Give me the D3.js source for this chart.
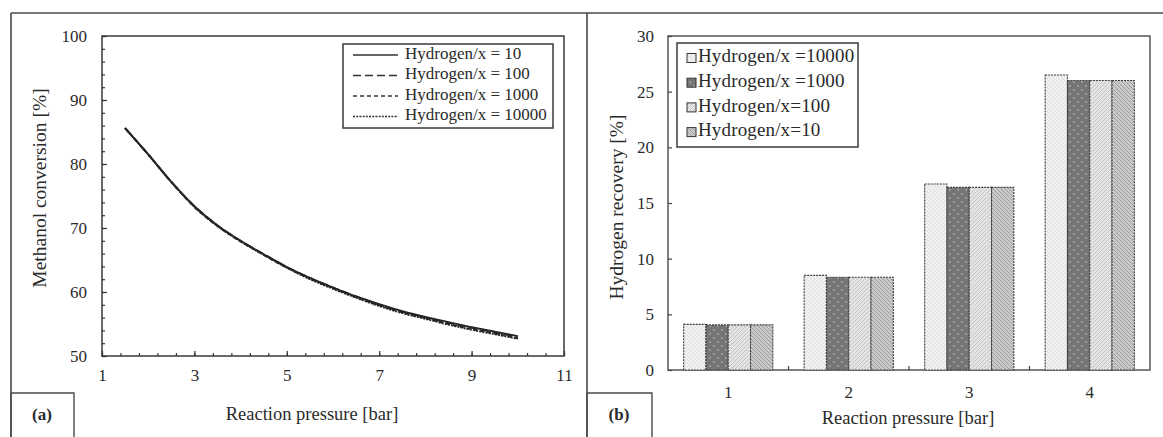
<!DOCTYPE html>
<html>
<head>
<meta charset="utf-8">
<script src="https://cdn.jsdelivr.net/npm/d3@7"></script>
<style>
  html, body { margin: 0; padding: 0; background: #fff; }
  svg { display: block; }
  svg text { font-family: "Liberation Serif", "Times New Roman", Times, "DejaVu Serif", serif; fill: #2a2a2a; }
</style>
</head>
<body>
<svg id="chart" width="1163" height="437"></svg>
<script>
// ---- (a) Methanol conversion vs. reaction pressure ----
const pressure   = [1.5, 2, 2.5, 3, 3.5, 4, 4.5, 5, 5.5, 6, 6.5, 7, 7.5, 8, 8.5, 9, 9.5, 10];
const conv10     = [85.6, 81.5, 77.2, 73.4, 70.4, 68.0, 65.9, 63.9, 62.2, 60.7, 59.3, 58.1, 57.0, 56.1, 55.3, 54.5, 53.8, 53.1];
const conv100    = [85.6, 81.5, 77.2, 73.4, 70.4, 68.0, 65.9, 63.9, 62.2, 60.7, 59.3, 58.0, 56.9, 56.0, 55.2, 54.4, 53.7, 53.0];
const conv1000   = [85.6, 81.5, 77.2, 73.3, 70.3, 67.9, 65.8, 63.8, 62.1, 60.6, 59.2, 57.9, 56.8, 55.9, 55.0, 54.2, 53.5, 52.8];
const conv10000  = [85.6, 81.5, 77.2, 73.3, 70.3, 67.9, 65.8, 63.8, 62.0, 60.5, 59.1, 57.8, 56.7, 55.8, 54.9, 54.1, 53.4, 52.7];
const lineLabels = ["Hydrogen/x = 10", "Hydrogen/x = 100", "Hydrogen/x = 1000", "Hydrogen/x = 10000"];
const xTicksA    = [1, 3, 5, 7, 9, 11];
const yTicksA    = [50, 60, 70, 80, 90, 100];

// ---- (b) Hydrogen recovery vs. reaction pressure ----
const categories = ["1", "2", "3", "4"];
const rec10000   = [4.1, 8.5, 16.7, 26.5];
const rec1000    = [4.05, 8.33, 16.4, 26.0];
const rec100     = [4.05, 8.33, 16.4, 26.0];
const rec10      = [4.05, 8.33, 16.4, 26.0];
const barLabels  = ["Hydrogen/x =10000", "Hydrogen/x =1000", "Hydrogen/x=100", "Hydrogen/x=10"];
const yTicksB    = [0, 5, 10, 15, 20, 25, 30];

const svg = d3.select("#chart");
const frameColor = "#4a4a4a";
const serif = "'Liberation Serif', 'Times New Roman', Times, 'DejaVu Serif', serif";

// ---------- fill patterns for the bars ----------
const defs = svg.append("defs");
// light fine dots
const p1 = defs.append("pattern").attr("id", "pat0").attr("patternUnits", "userSpaceOnUse")
  .attr("width", 4).attr("height", 4);
p1.append("rect").attr("width", 4).attr("height", 4).attr("fill", "#f1f1f1");
p1.append("circle").attr("cx", 1).attr("cy", 1).attr("r", 0.6).attr("fill", "#c4c4c4");
p1.append("circle").attr("cx", 3).attr("cy", 3).attr("r", 0.6).attr("fill", "#c4c4c4");
// dark with light dots
const p2 = defs.append("pattern").attr("id", "pat1").attr("patternUnits", "userSpaceOnUse")
  .attr("width", 8).attr("height", 8);
p2.append("rect").attr("width", 8).attr("height", 8).attr("fill", "#757575");
p2.append("circle").attr("cx", 2).attr("cy", 2).attr("r", 0.9).attr("fill", "#a8a8a8");
p2.append("circle").attr("cx", 6).attr("cy", 6).attr("r", 0.9).attr("fill", "#a8a8a8");
// light forward hatch
const p3 = defs.append("pattern").attr("id", "pat2").attr("patternUnits", "userSpaceOnUse")
  .attr("width", 4).attr("height", 4);
p3.append("rect").attr("width", 4).attr("height", 4).attr("fill", "#e4e4e4");
p3.append("path").attr("d", "M-1,1 l2,-2 M0,4 l4,-4 M3,5 l2,-2")
  .attr("stroke", "#c2c2c2").attr("stroke-width", 0.9);
// medium backward hatch
const p4 = defs.append("pattern").attr("id", "pat3").attr("patternUnits", "userSpaceOnUse")
  .attr("width", 4).attr("height", 4);
p4.append("rect").attr("width", 4).attr("height", 4).attr("fill", "#c9c9c9");
p4.append("path").attr("d", "M-1,3 l2,2 M0,0 l4,4 M3,-1 l2,2")
  .attr("stroke", "#9a9a9a").attr("stroke-width", 0.9);

// ---------- outer panel frame ----------
svg.append("line").attr("x1", 11).attr("x2", 1163).attr("y1", 13).attr("y2", 13)
  .attr("stroke", frameColor).attr("stroke-width", 1.6);
svg.append("line").attr("x1", 11).attr("x2", 11).attr("y1", 13).attr("y2", 437)
  .attr("stroke", frameColor).attr("stroke-width", 1.6);
svg.append("line").attr("x1", 587).attr("x2", 587).attr("y1", 13).attr("y2", 437)
  .attr("stroke", frameColor).attr("stroke-width", 1.6);

// panel tags
function tag(x0, x1, top, label, cx) {
  svg.append("path").attr("d", `M${x0},437 V${top} H${x1} V437`)
    .attr("fill", "none").attr("stroke", frameColor).attr("stroke-width", 1.4);
  svg.append("text").attr("x", cx).attr("y", 416).attr("text-anchor", "middle")
    .attr("dominant-baseline", "middle").attr("font-size", 17).attr("font-weight", "bold")
    .attr("font-family", serif).text(label);
}
tag(11, 74, 393, "(a)", 42);
tag(587, 652, 393, "(b)", 619);

// =============== Panel (a) ===============
const A = { left: 102, right: 564, top: 36, bottom: 356 };
const xA = d3.scaleLinear().domain([1, 11]).range([A.left, A.right]);
const yA = d3.scaleLinear().domain([50, 100]).range([A.bottom, A.top]);

const gA = svg.append("g");
gA.append("rect").attr("x", A.left).attr("y", A.top)
  .attr("width", A.right - A.left).attr("height", A.bottom - A.top)
  .attr("fill", "none").attr("stroke", "#3a3a3a").attr("stroke-width", 1.5);

// minor ticks
const xMinorA = d3.range(0, 26).map(i => 1 + i * 0.4);
const yMinorA = d3.range(0, 26).map(i => 50 + i * 2);
gA.append("g").attr("transform", `translate(0,${A.bottom})`)
  .call(d3.axisBottom(xA).tickValues(xMinorA).tickSize(-3).tickFormat(""))
  .call(g => g.select(".domain").remove())
  .call(g => g.selectAll("line").attr("stroke", "#333").attr("stroke-width", 1.2));
gA.append("g").attr("transform", `translate(${A.left},0)`)
  .call(d3.axisLeft(yA).tickValues(yMinorA).tickSize(-3).tickFormat(""))
  .call(g => g.select(".domain").remove())
  .call(g => g.selectAll("line").attr("stroke", "#333").attr("stroke-width", 1.2));

// major ticks and labels
gA.append("g").attr("transform", `translate(0,${A.bottom})`)
  .call(d3.axisBottom(xA).tickValues(xTicksA).tickSize(-5).tickPadding(13).tickFormat(d3.format("d")))
  .attr("font-family", serif)
  .call(g => g.select(".domain").remove())
  .call(g => g.selectAll("line").attr("stroke", "#333").attr("stroke-width", 1.2))
  .call(g => g.selectAll("text").attr("font-size", 17).attr("fill", "#333"));
gA.append("g").attr("transform", `translate(${A.left},0)`)
  .call(d3.axisLeft(yA).tickValues(yTicksA).tickSize(-5).tickPadding(15).tickFormat(d3.format("d")))
  .attr("font-family", serif)
  .call(g => g.select(".domain").remove())
  .call(g => g.selectAll("line").attr("stroke", "#333").attr("stroke-width", 1.2))
  .call(g => g.selectAll("text").attr("font-size", 17).attr("fill", "#333"));

// axis titles
svg.append("text").attr("transform", `translate(42,188) rotate(-90)`)
  .attr("text-anchor", "middle").attr("dominant-baseline", "middle").attr("font-size", 19.5)
  .attr("font-family", serif).text("Methanol conversion [%]");
svg.append("text").attr("x", 312).attr("y", 416).attr("text-anchor", "middle")
  .attr("dominant-baseline", "middle").attr("font-size", 18.5)
  .attr("font-family", serif).text("Reaction pressure [bar]");

// curves
const lineSeries = [conv10, conv100, conv1000, conv10000];
const dashes = [null, "8,4", "4,3", "2,1.2"];
const line = d3.line().x((d, i) => xA(pressure[i])).y(d => yA(d)).curve(d3.curveMonotoneX);
lineSeries.forEach((s, k) => {
  gA.append("path").datum(s).attr("d", line)
    .attr("fill", "none").attr("stroke", "#262626").attr("stroke-width", 1.9)
    .attr("stroke-dasharray", dashes[k]);
});

// legend (a)
const legA = gA.append("g");
legA.append("rect").attr("x", 343).attr("y", 44).attr("width", 210).attr("height", 84)
  .attr("fill", "#fff").attr("stroke", "#3a3a3a").attr("stroke-width", 1.5);
lineLabels.forEach((lab, k) => {
  const yy = 55 + k * 20.5;
  legA.append("line").attr("x1", 353).attr("x2", 398).attr("y1", yy).attr("y2", yy)
    .attr("stroke", "#333").attr("stroke-width", 1.5).attr("stroke-dasharray", dashes[k]);
  legA.append("text").attr("x", 405).attr("y", yy).attr("dominant-baseline", "middle")
    .attr("font-size", 17).attr("font-family", serif).text(lab);
});

// =============== Panel (b) ===============
const B = { left: 668, right: 1150, top: 36, bottom: 370 };
const x0 = d3.scaleBand().domain(categories).range([B.left, B.right]);
const barSeries = [rec10000, rec1000, rec100, rec10];
const seriesIdx = d3.range(barSeries.length);
const x1 = d3.scaleBand().domain(seriesIdx)
  .range([x0.bandwidth() * 0.13, x0.bandwidth() * 0.87]);
const yB = d3.scaleLinear().domain([0, 30]).range([B.bottom, B.top]);

const gB = svg.append("g");
gB.append("rect").attr("x", B.left).attr("y", B.top)
  .attr("width", B.right - B.left).attr("height", B.bottom - B.top)
  .attr("fill", "none").attr("stroke", "#555").attr("stroke-width", 1.5);

// bars
categories.forEach((c, ci) => {
  seriesIdx.forEach(si => {
    const v = barSeries[si][ci];
    gB.append("rect")
      .attr("x", x0(c) + x1(si)).attr("y", yB(v))
      .attr("width", x1.bandwidth()).attr("height", yB(0) - yB(v))
      .attr("fill", `url(#pat${si})`)
      .attr("stroke", "#3c3c3c").attr("stroke-width", 1.1).attr("stroke-dasharray", "2,1");
  });
});

// y axis
gB.append("g").attr("transform", `translate(${B.left},0)`)
  .call(d3.axisLeft(yB).tickValues(yTicksB).tickSize(-4).tickPadding(14).tickFormat(d3.format("d")))
  .attr("font-family", serif)
  .call(g => g.select(".domain").remove())
  .call(g => g.selectAll("line").attr("stroke", "#444").attr("stroke-width", 1.2))
  .call(g => g.selectAll("text").attr("font-size", 17).attr("fill", "#333"));

// category boundary ticks on x axis
categories.slice(1).forEach(c => {
  gB.append("line").attr("x1", x0(c)).attr("x2", x0(c))
    .attr("y1", B.bottom).attr("y2", B.bottom - 4)
    .attr("stroke", "#444").attr("stroke-width", 1.2);
});
// category labels
categories.forEach(c => {
  gB.append("text").attr("x", x0(c) + x0.bandwidth() / 2).attr("y", 394)
    .attr("text-anchor", "middle").attr("dominant-baseline", "middle")
    .attr("font-size", 17).attr("fill", "#333").attr("font-family", serif).text(c);
});

// axis titles
svg.append("text").attr("transform", `translate(619,207) rotate(-90)`)
  .attr("text-anchor", "middle").attr("dominant-baseline", "middle").attr("font-size", 19.5)
  .attr("font-family", serif).text("Hydrogen recovery [%]");
svg.append("text").attr("x", 908).attr("y", 420).attr("text-anchor", "middle")
  .attr("dominant-baseline", "middle").attr("font-size", 18.5)
  .attr("font-family", serif).text("Reaction pressure [bar]");

// legend (b)
const legB = gB.append("g");
legB.append("rect").attr("x", 677).attr("y", 43).attr("width", 181).attr("height", 104)
  .attr("fill", "#fff").attr("stroke", "#3a3a3a").attr("stroke-width", 1.5);
barLabels.forEach((lab, k) => {
  const yy = 58 + k * 24.7;
  legB.append("rect").attr("x", 687).attr("y", yy - 4.5).attr("width", 9).attr("height", 9)
    .attr("fill", `url(#pat${k})`).attr("stroke", "#333").attr("stroke-width", 1);
  legB.append("text").attr("x", 698).attr("y", yy).attr("dominant-baseline", "middle")
    .attr("font-size", 19).attr("letter-spacing", 0.15).attr("font-family", serif).text(lab);
});
</script>
</body>
</html>
